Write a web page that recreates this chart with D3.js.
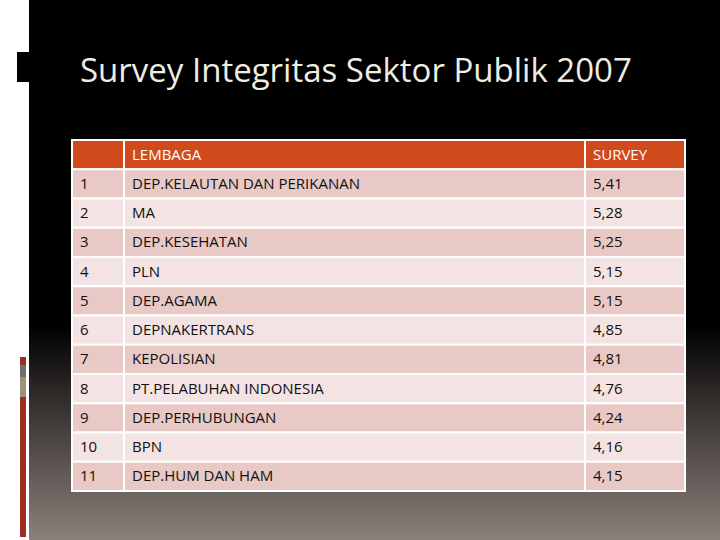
<!DOCTYPE html>
<html><head><meta charset="utf-8">
<script src="https://cdn.jsdelivr.net/npm/d3@7"></script>
<style>body{margin:0;background:#fff}</style></head>
<body><script>
const title = "Survey Integritas Sektor Publik 2007";
const headers = ["", "LEMBAGA", "SURVEY"];
const numbers = ["1","2","3","4","5","6","7","8","9","10","11"];
const lembaga = ["DEP.KELAUTAN DAN PERIKANAN","MA","DEP.KESEHATAN","PLN","DEP.AGAMA","DEPNAKERTRANS","KEPOLISIAN","PT.PELABUHAN INDONESIA","DEP.PERHUBUNGAN","BPN","DEP.HUM DAN HAM"];
const survey = [5.41,5.28,5.25,5.15,5.15,4.85,4.81,4.76,4.24,4.16,4.15];

const W=720,H=540;
const svg=d3.select("body").append("svg").attr("width",W).attr("height",H);
const defs=svg.append("defs");
const g=defs.append("linearGradient").attr("id","bg").attr("x1",0).attr("y1",0).attr("x2",0).attr("y2",1);
g.append("stop").attr("offset","0.6").attr("stop-color","#000");
g.append("stop").attr("offset","1").attr("stop-color","#8c817c");
svg.append("rect").attr("width",W).attr("height",H).attr("fill","#fff");
svg.append("rect").attr("x",29).attr("width",W-29).attr("height",H).attr("fill","url(#bg)");
svg.append("rect").attr("x",17).attr("y",52).attr("width",12).attr("height",30).attr("fill","#000");
[[357,365,"#9b2d22"],[365,377,"#6f6f6f"],[377,397,"#a09078"],[397,537,"#9b2d22"]].forEach(d=>
  svg.append("rect").attr("x",20).attr("y",d[0]).attr("width",6).attr("height",d[1]-d[0]).attr("fill",d[2]));

svg.append("text").attr("x",80).attr("y",82).attr("fill","#f0ede2")
  .attr("font-family","'Open Sans',sans-serif").attr("font-size",33).text(title);

const rows=["h",...numbers];
const y=d3.scaleBand().domain(rows).range([140,491]);
const x=d3.scaleOrdinal().domain([0,1,2,3]).range([72,124,585,685]);
const fmt=v=>d3.format(".2f")(v).replace(".",",");
const data=rows.map((r,i)=>r==="h"?headers:[numbers[i-1],lembaga[i-1],fmt(survey[i-1])]);
const tb=svg.append("g").attr("font-family","'Open Sans',sans-serif").attr("font-size",15);
data.forEach((row,i)=>{
  const fill=i===0?"#d04a1b":(i%2? "#e9c9c6":"#f3e4e3");
  row.forEach((t,j)=>{
    tb.append("rect").attr("x",x(j)).attr("y",y(rows[i])).attr("width",x(j+1)-x(j)).attr("height",y.bandwidth())
      .attr("fill",fill).attr("stroke","#fff").attr("stroke-width",2);
    tb.append("text").attr("x",x(j)+8).attr("y",y(rows[i])+y.bandwidth()/2+5)
      .attr("fill",i===0?"#fff":"#111").text(t);
  });
});
</script></body></html>
